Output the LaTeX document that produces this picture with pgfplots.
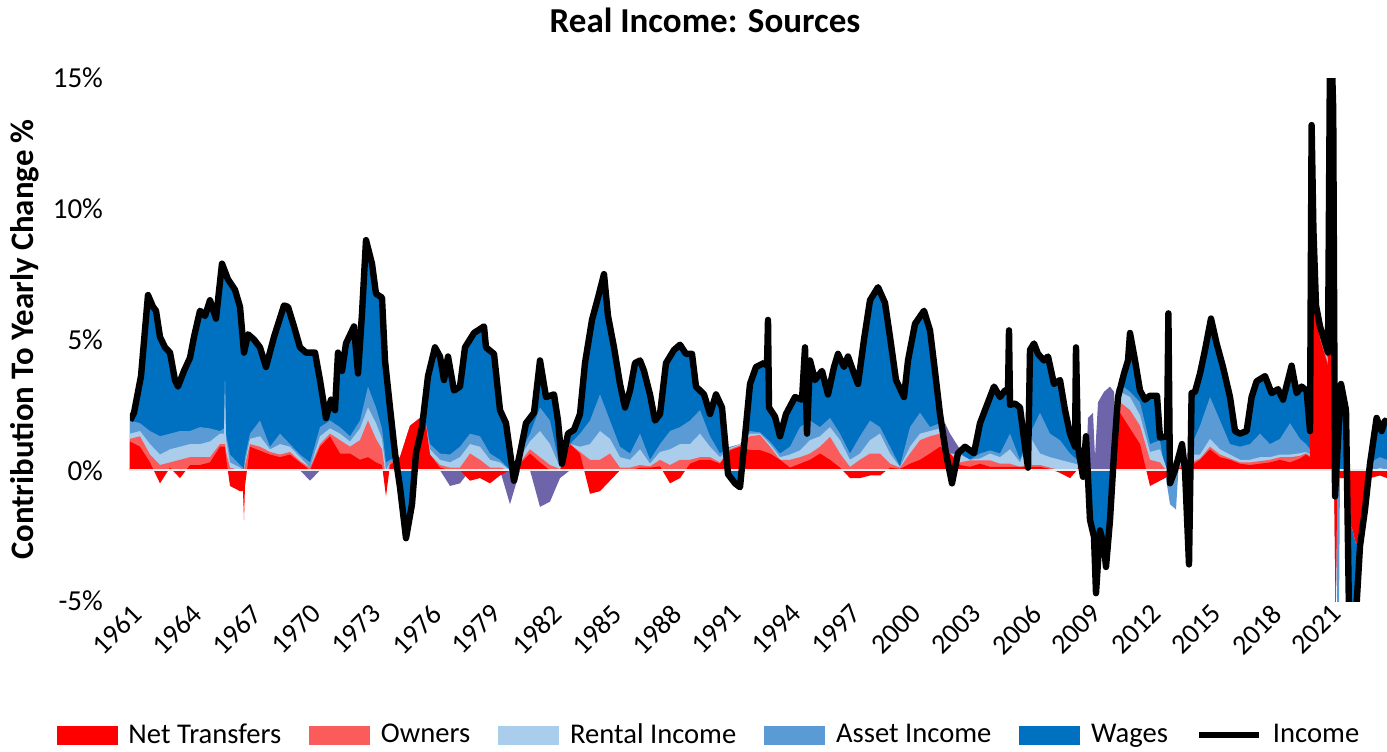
\documentclass[border=0pt]{standalone}
\usepackage{fontspec}
\setmainfont{Carlito}
\usepackage{pgfplots}
\pgfplotsset{compat=1.18}
\usepackage{pgfplotstable}

\definecolor{trans}{RGB}{255,0,0}
\definecolor{owners}{RGB}{250,92,92}
\definecolor{rental}{RGB}{170,205,235}
\definecolor{asset}{RGB}{91,155,213}
\definecolor{wages}{RGB}{0,112,192}
\definecolor{overlap}{RGB}{110,100,170}

% total yearly change of real income (%)
\pgfplotstableread{
t inc
1961.0 1.9
1961.2 2.2
1961.55 3.6
1961.9 6.7
1962.15 6.25
1962.3 6.1
1962.5 5.1
1962.75 4.7
1963.0 4.5
1963.25 3.45
1963.4 3.2
1963.7 3.8
1964.0 4.3
1964.2 5.1
1964.5 6.1
1964.75 5.9
1965.0 6.5
1965.3 5.8
1965.6 7.9
1965.9 7.3
1966.25 6.9
1966.5 6.25
1966.7 4.5
1966.9 5.2
1967.2 5.0
1967.5 4.7
1967.8 3.95
1968.2 5.1
1968.7 6.3
1968.9 6.25
1969.2 5.5
1969.5 4.7
1969.8 4.5
1970.25 4.5
1970.5 3.45
1970.8 2.0
1971.05 2.7
1971.25 2.3
1971.4 4.5
1971.6 3.8
1971.8 4.85
1972.2 5.5
1972.4 3.7
1972.6 6.0
1972.8 8.8
1973.1 7.9
1973.3 6.75
1973.6 6.6
1973.75 4.2
1974.0 2.4
1974.25 0.65
1974.5 -0.65
1974.8 -2.6
1975.1 -1.3
1975.3 0.65
1975.6 1.65
1975.9 3.6
1976.25 4.7
1976.5 4.35
1976.7 3.45
1976.9 4.35
1977.2 3.05
1977.5 3.2
1977.75 4.7
1978.2 5.25
1978.7 5.5
1978.8 4.7
1979.2 4.45
1979.5 2.3
1979.8 1.8
1980.2 -0.4
1980.5 0.65
1980.8 1.8
1981.2 2.2
1981.5 4.2
1981.8 2.8
1982.2 2.9
1982.4 1.9
1982.6 0.25
1982.9 1.4
1983.2 1.55
1983.5 2.15
1983.75 4.1
1984.1 5.75
1984.4 6.6
1984.7 7.5
1984.9 5.9
1985.2 4.7
1985.5 3.3
1985.75 2.4
1986.0 3.05
1986.25 4.1
1986.5 4.2
1986.7 3.8
1987.0 2.9
1987.25 1.9
1987.5 2.15
1987.8 4.1
1988.2 4.6
1988.5 4.8
1988.8 4.45
1989.1 4.45
1989.3 3.2
1989.7 2.9
1990.0 2.15
1990.3 2.9
1990.6 2.4
1990.9 -0.15
1991.25 -0.5
1991.5 -0.65
1991.75 1.3
1992.0 3.3
1992.3 3.95
1992.7 4.1
1992.85 4.0
1992.9 5.75
1992.95 2.4
1993.25 2.05
1993.5 1.3
1993.8 2.15
1994.25 2.8
1994.6 2.7
1994.75 4.7
1994.85 1.4
1995.0 4.2
1995.25 3.45
1995.6 3.8
1995.9 2.9
1996.2 3.95
1996.4 4.45
1996.7 3.95
1996.9 4.35
1997.2 3.7
1997.4 3.3
1997.7 5.0
1998.0 6.5
1998.4 7.0
1998.75 6.4
1999.0 5.1
1999.3 3.45
1999.7 2.8
1999.9 4.2
2000.25 5.6
2000.7 6.1
2001.0 5.35
2001.2 4.1
2001.5 2.15
2001.8 0.65
2002.1 -0.5
2002.4 0.65
2002.75 0.9
2003.2 0.65
2003.5 1.8
2003.8 2.4
2004.2 3.2
2004.5 2.8
2004.75 3.05
2004.9 3.0
2004.95 5.35
2005.0 2.5
2005.25 2.55
2005.5 2.4
2005.75 0.9
2005.9 0.1
2006.0 4.6
2006.2 4.85
2006.4 4.45
2006.7 4.2
2006.9 4.35
2007.2 3.3
2007.5 3.45
2007.75 2.3
2008.0 1.4
2008.25 0.9
2008.3 4.7
2008.4 0.9
2008.65 -0.25
2008.8 1.3
2009.0 -1.9
2009.2 -2.55
2009.3 -4.7
2009.5 -2.3
2009.7 -2.9
2009.8 -3.7
2010.0 -1.9
2010.2 0.65
2010.4 2.8
2010.7 3.7
2010.9 4.2
2011.0 5.25
2011.25 4.2
2011.5 3.05
2011.75 2.7
2012.0 2.85
2012.35 2.85
2012.5 1.25
2012.85 1.3
2012.92 6.0
2013.0 -0.5
2013.25 0.0
2013.6 1.0
2013.75 0.0
2013.95 -3.6
2014.08 2.95
2014.25 3.0
2014.5 3.7
2014.75 4.6
2015.05 5.8
2015.33 4.85
2015.65 3.95
2016.0 2.8
2016.25 1.5
2016.5 1.4
2016.83 1.5
2017.08 2.8
2017.33 3.4
2017.75 3.6
2018.08 2.95
2018.4 3.1
2018.65 2.7
2019.08 4.0
2019.33 2.95
2019.58 3.2
2019.83 3.05
2020.0 1.5
2020.08 13.2
2020.17 9.2
2020.3 6.3
2020.5 5.5
2020.7 5.0
2020.9 4.5
2021.0 16
2021.08 16
2021.16 13.8
2021.25 -1.0
2021.55 3.3
2021.8 2.3
2021.95 -5.5
2022.3 -5.5
2022.5 -2.9
2022.75 -1.5
2023.0 0.25
2023.33 2.0
2023.58 1.5
2023.75 1.9
2023.85 1.8
}\income

% stacked levels of the sources: transfers, +owners, +rental, +asset; pu = mixed band
\pgfplotstableread{
t tr ow re as pu
1961.0 1.1 1.2 1.4 1.9 0
1961.5 0.9 1.3 1.5 1.8 0
1962.0 0.3 0.6 1.0 1.5 0
1962.5 -0.5 0.2 0.6 1.3 0
1963.0 0.1 0.3 0.8 1.4 0
1963.5 -0.3 0.4 0.9 1.5 0
1964.0 0.2 0.5 1.0 1.5 0
1964.5 0.2 0.5 1.0 1.65 0
1965.0 0.3 0.5 1.1 1.6 0
1965.5 0.9 1.0 1.4 1.5 0
1965.7 0.9 1.0 1.4 1.6 0
1965.75 0.9 1.0 3.4 3.4 0
1965.8 0.5 0.7 1.2 1.4 0
1966.0 -0.6 0.1 0.3 0.6 0
1966.5 -0.8 0.0 0.1 0.2 0
1966.65 -0.8 0.0 0.0 0.1 0
1966.7 -1.9 0.0 0.0 0.0 0
1966.75 -0.6 0.2 0.3 0.5 0
1967.0 0.9 1.0 1.2 1.4 0
1967.5 0.75 0.9 1.3 1.9 0
1968.0 0.6 0.7 0.8 0.9 0
1968.5 0.5 0.6 1.0 1.4 0
1969.0 0.6 0.7 0.9 1.0 0
1969.5 0.3 0.35 0.5 0.6 0
1970.0 0.0 0.1 0.1 0.3 -0.4
1970.5 0.9 1.0 1.3 1.65 0
1971.0 1.3 1.4 1.6 1.9 0
1971.5 0.64 1.15 1.4 1.65 0
1972.0 0.64 0.9 1.1 1.3 0
1972.5 0.4 1.15 1.6 1.9 0
1972.9 0.5 1.9 2.4 3.2 0
1973.3 0.3 1.2 1.8 2.4 0
1973.6 0.2 0.8 1.2 1.6 0
1973.8 -1.0 -0.3 0.0 0.3 0
1974.0 0.2 0.3 0.3 0.4 0
1974.5 0.5 0.5 0.5 0.5 0
1975.0 1.7 1.7 1.7 1.7 0
1975.5 2.0 2.0 2.0 2.0 0
1975.8 1.7 1.7 1.7 1.8 0
1976.0 0.6 0.6 0.8 1.0 0
1976.5 0.1 0.2 0.4 0.64 0
1977.0 0.0 0.1 0.3 0.6 -0.6
1977.5 0.0 0.1 0.5 0.9 -0.5
1978.0 -0.4 0.64 1.0 1.4 0
1978.5 -0.3 0.4 0.9 1.3 0
1979.0 -0.5 0.1 0.4 0.64 0
1979.5 -0.2 0.1 0.3 0.4 0
1980.0 0.0 0.0 0.0 0.0 -1.3
1980.5 0.25 0.3 0.5 0.64 0
1981.0 0.64 0.8 1.1 1.4 0
1981.5 0.3 0.5 1.5 2.4 -1.4
1982.0 0.0 0.2 1.0 1.9 -1.2
1982.5 0.0 0.05 0.1 0.1 -0.3
1983.0 1.0 1.0 1.0 1.0 0
1983.5 0.64 0.7 0.9 1.4 0
1984.0 -0.9 0.4 1.0 1.9 0
1984.5 -0.8 0.4 1.5 2.9 0
1985.0 -0.4 0.64 1.2 1.9 0
1985.5 0.0 0.1 0.5 0.9 0
1986.0 0.0 0.1 0.4 0.64 0
1986.5 0.1 0.2 0.8 1.4 0
1987.0 0.1 0.15 0.25 0.4 0
1987.5 0.15 0.4 0.7 1.0 0
1988.0 -0.5 0.2 0.8 1.5 0
1988.5 -0.3 0.4 1.0 1.65 0
1989.0 0.25 0.4 1.0 1.9 0
1989.5 0.4 0.5 1.4 2.3 0
1990.0 0.4 0.5 0.9 1.3 0
1990.5 0.25 0.3 0.5 0.64 0
1991.0 0.76 0.8 0.85 0.9 0
1991.5 0.9 0.95 1.0 1.0 0
1992.0 0.77 1.3 1.4 1.5 0
1992.5 0.77 1.35 1.4 1.45 0
1993.0 0.64 0.9 1.0 1.1 0
1993.5 0.4 0.4 0.5 0.64 0
1994.0 0.1 0.4 0.6 0.9 0
1994.5 0.25 0.5 0.76 1.65 0
1995.0 0.4 0.64 1.15 1.9 0
1995.5 0.64 0.9 1.3 1.65 0
1996.0 0.4 1.28 1.65 2.0 0
1996.5 0.1 0.64 1.15 1.4 0
1997.0 -0.3 0.13 0.4 0.64 0
1997.5 -0.3 0.4 0.64 1.3 0
1998.0 -0.2 0.64 1.15 1.9 0
1998.5 -0.2 0.64 1.4 1.65 0
1999.0 0.1 0.25 0.64 0.9 0
1999.5 0.05 0.1 0.12 0.15 0
2000.0 0.25 0.64 0.9 1.65 0
2000.5 0.4 1.15 1.4 2.2 0
2001.0 0.64 1.3 1.5 1.65 0
2001.5 0.9 1.4 1.6 1.8 0
2001.75 0.8 0.8 0.8 0.8 1.8
2002.0 0.64 0.64 0.64 0.64 1.4
2002.5 0.2 0.3 0.6 0.64 0.8
2003.0 0.13 0.38 0.4 0.4 0
2003.5 0.25 0.38 0.45 0.64 0
2004.0 0.13 0.38 0.64 0.76 0
2004.5 0.13 0.25 0.5 0.64 0
2005.0 0.13 0.25 0.8 1.4 0
2005.5 0.13 0.13 0.3 0.4 0
2006.0 0.13 0.2 1.28 1.4 0
2006.5 0.13 0.2 0.64 2.2 0
2007.0 0.05 0.1 0.5 1.4 0
2007.5 -0.1 0.0 0.4 1.15 0
2008.0 -0.3 -0.1 0.3 0.64 0
2008.5 0.13 0.13 0.2 0.3 0
2008.8 0 0 0 0 0
2008.9 0 0 0 0 2.0
2009.15 0 0 0 0 2.2
2009.25 0 0 0 0 0.5
2009.4 0 0 0 0 2.6
2009.7 0 0 0 0 3.0
2010.0 0 0 0 0 3.2
2010.2 0.5 0.6 0.7 0.8 3.0
2010.3 2.0 2.4 2.8 3.1 0
2010.5 2.2 2.6 3.0 3.3 0
2011.0 1.6 2.3 2.8 3.0 0
2011.5 1.0 1.7 2.1 2.6 0
2012.0 -0.6 0.4 0.7 1.0 0
2012.5 -0.4 0.3 0.8 1.15 0
2013.0 -0.2 -0.2 -0.3 -1.3 0
2013.3 -0.1 -0.1 -0.2 -1.5 0
2013.5 0.1 0.2 0.6 1.0 0
2013.9 0 0 0 0 0
2014.1 0.2 0.3 0.6 1.0 0
2014.5 0.4 0.45 0.6 1.7 0
2015.0 0.8 0.9 1.2 2.8 0
2015.5 0.5 0.6 0.8 1.9 0
2016.0 0.4 0.45 0.6 1.0 0
2016.5 0.25 0.3 0.4 0.9 0
2017.0 0.2 0.3 0.4 1.0 0
2017.5 0.25 0.35 0.5 1.4 0
2018.0 0.3 0.4 0.5 1.0 0
2018.5 0.4 0.5 0.6 1.2 0
2019.0 0.3 0.5 0.6 1.8 0
2019.5 0.45 0.55 0.65 1.2 0
2019.8 0.6 0.65 0.7 1.0 0
2020.0 0.5 0.55 0.6 0.8 0
2020.08 12.5 12.7 12.8 13.0 0
2020.17 8.5 8.7 8.8 9.0 0
2020.3 5.8 5.9 6.0 6.1 0
2020.5 5.0 5.1 5.2 5.3 0
2020.7 4.5 4.6 4.7 4.8 0
2020.9 4.0 4.1 4.2 4.3 0
2021.0 15.5 15.6 15.7 15.8 0
2021.08 15.5 15.6 15.7 15.8 0
2021.16 13.3 13.4 13.5 13.6 0
2021.2 0 0 0 0 0
2021.28 -5.5 -5.5 -5.5 -1.0 0
2021.36 -1.0 -1.0 -1.0 -5.5 0
2021.45 -0.3 -0.3 -0.3 -5.5 0
2021.5 -0.3 -0.3 -0.2 0.0 0
2021.75 -0.3 -0.3 -0.3 -0.2 0
2021.9 -2.0 -2.0 -2.0 -2.0 0
2022.1 -2.2 -2.2 -2.2 -2.2 0
2022.3 -2.8 -2.8 -2.8 -2.8 0
2022.5 -2.6 -2.6 -2.6 -2.6 0
2022.7 -1.5 -1.5 -1.5 -1.5 0
2022.9 -0.3 -0.3 -0.3 0.3 0
2023.0 -0.3 -0.2 -0.1 0.3 0
2023.5 -0.2 -0.1 0.1 0.5 0
2023.85 -0.3 -0.2 0.0 0.4 0
}\parts

\begin{document}
\begin{tikzpicture}
\begin{axis}[
    at={(0,0)}, anchor=south west,
    scale only axis,
    width=628.5pt, height=261.5pt,
    xmin=1961, xmax=2023.85,
    ymin=-5, ymax=15,
    axis line style={draw=none},
    tick style={draw=none},
    major tick length=0pt,
    ytick={-5,0,5,10,15},
    yticklabels={-5\%,0\%,5\%,10\%,15\%},
    xtick={1961,1964,...,2021},
    xticklabel={\pgfmathprintnumber[1000 sep={},assume math mode=true]{\tick}},
    x tick label style={rotate=45, anchor=north east, inner sep=0.5pt,
        font=\fontsize{14}{14}\selectfont},
    y tick label style={font=\fontsize{14.5}{14.5}\selectfont, xshift=-10pt},
    legend columns=6,
    legend style={at={(0.4614,-0.2562)}, anchor=center, draw=none, fill=none,
        font=\fontsize{14.3}{14.3}\selectfont,
        /tikz/every even column/.append style={column sep=12pt},
        /tikz/every odd column/.append style={column sep=3.5pt}},
    legend image code/.code={\fill[#1] (0pt,-4.5pt) rectangle (30pt,4.5pt);},
  ]
  \addplot[draw=none, fill=wages, forget plot] table[x=t, y=inc] {\income} \closedcycle;
  \addplot[draw=none, fill=overlap, forget plot] table[x=t, y=pu] {\parts} \closedcycle;
  \addplot[draw=none, fill=asset, forget plot] table[x=t, y=as] {\parts} \closedcycle;
  \addplot[draw=none, fill=rental, forget plot] table[x=t, y=re] {\parts} \closedcycle;
  \addplot[draw=none, fill=owners, forget plot] table[x=t, y=ow] {\parts} \closedcycle;
  \addplot[draw=none, fill=trans, forget plot] table[x=t, y=tr] {\parts} \closedcycle;
  \addplot[gray!15, line width=0.8pt, forget plot] coordinates {(1961,0) (2023.85,0)};
  \addplot[black, line width=3.2pt, line join=round, forget plot] table[x=t, y=inc] {\income};

  \addlegendimage{trans}
  \addlegendentry{Net Transfers}
  \addlegendimage{owners}
  \addlegendentry{Owners}
  \addlegendimage{rental}
  \addlegendentry{Rental Income}
  \addlegendimage{asset}
  \addlegendentry{Asset Income}
  \addlegendimage{wages}
  \addlegendentry{Wages}
  \addlegendimage{legend image code/.code={\draw[black, line width=3pt] (0pt,0pt) -- (30pt,0pt);}}
  \addlegendentry{Income}
\end{axis}
\node[font=\bfseries\fontsize{17.5}{17.5}\selectfont] at (287.5pt,290.5pt) {Real Income: Sources};
\node[rotate=90, font=\bfseries\fontsize{16.4}{16.4}\selectfont] at (-52.5pt,130.75pt) {Contribution To Yearly Change \%};
\pgfresetboundingbox
\path[use as bounding box] (-65pt,-75pt) rectangle (628.5pt,300.5pt);
\end{tikzpicture}
\end{document}
